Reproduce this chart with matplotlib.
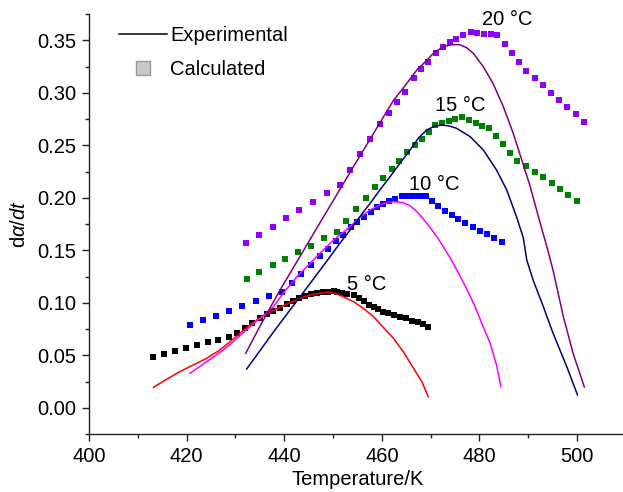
import numpy as np
import matplotlib
matplotlib.use("Agg")
import matplotlib.pyplot as plt
from matplotlib.lines import Line2D
from matplotlib.ticker import MultipleLocator, FormatStrFormatter

plt.rcParams['font.family'] = ['Liberation Sans', 'DejaVu Sans']
plt.rcParams['mathtext.fontset'] = 'custom'
plt.rcParams['mathtext.rm'] = 'Liberation Sans'
plt.rcParams['mathtext.it'] = 'Liberation Sans:italic'

# experimental curves (temperature in K, rate)
exp5_T = [413.2, 415.9, 418.6, 421.4, 424.1, 426.8, 428.9, 430.9, 433.0, 435.0,
          437.1, 439.1, 441.2, 443.2, 445.3, 447.3, 449.0, 450.4, 451.4, 452.1,
          454.2, 456.2, 458.3, 460.3, 462.4, 464.4, 466.5, 468.2, 469.5]
exp5_r = [0.0197, 0.0273, 0.0346, 0.0410, 0.0473, 0.0552, 0.0632, 0.0711, 0.0790, 0.0860,
          0.0911, 0.0959, 0.1003, 0.1044, 0.1076, 0.1092, 0.1101, 0.1092, 0.1075, 0.1058,
          0.1013, 0.0949, 0.0870, 0.0768, 0.0663, 0.0536, 0.0378, 0.0251, 0.0108]

exp10_T = [420.7, 424.1, 427.5, 430.3, 433.0, 435.7, 437.8, 439.5, 442.6, 445.3,
           447.3, 449.4, 451.4, 453.5, 455.5, 457.6, 459.6, 460.3, 462.4, 464.4,
           465.8, 467.2, 468.5, 469.9, 471.3, 472.6, 474.0, 475.3, 477.0, 478.8,
           480.5, 482.2, 483.5, 484.4]
exp10_r = [0.0330, 0.0441, 0.0552, 0.0663, 0.0775, 0.0879, 0.0965, 0.1076, 0.1250, 0.1378,
           0.1473, 0.1568, 0.1648, 0.1727, 0.1816, 0.1886, 0.1933, 0.1949, 0.1965, 0.1955,
           0.1925, 0.1870, 0.1800, 0.1718, 0.1630, 0.1535, 0.1430, 0.1320, 0.1170, 0.0997,
           0.0806, 0.0616, 0.0410, 0.0203]

exp15_T = [432.3, 438.1, 444.3, 446.7, 449.4, 451.4, 453.5, 455.5, 457.6, 459.6,
           461.7, 463.7, 465.8, 467.5, 469.2, 470.9, 472.3, 473.9, 475.3, 478.1,
           480.8, 483.5, 485.6, 487.6, 489.0, 489.7, 491.0, 493.1, 495.1, 497.9,
           500.1]
exp15_r = [0.0371, 0.0743, 0.1124, 0.1273, 0.1441, 0.1568, 0.1695, 0.1822, 0.1949, 0.2076,
           0.2203, 0.2330, 0.2457, 0.2570, 0.2648, 0.2685, 0.2695, 0.2685, 0.2664, 0.2584,
           0.2457, 0.2267, 0.2076, 0.1822, 0.1620, 0.1410, 0.1219, 0.0965, 0.0711, 0.0394,
           0.0124]

exp20_T = [432.1, 435.5, 439.1, 446.9, 454.6, 462.4, 465.1, 467.2, 469.2, 470.6,
           472.6, 474.3, 476.0, 477.4, 478.7, 480.8, 482.8, 484.9, 486.9, 488.7,
           490.4, 492.1, 493.8, 495.1, 497.2, 499.2, 501.5]
exp20_r = [0.052, 0.082, 0.112, 0.173, 0.233, 0.293, 0.309, 0.322, 0.331, 0.338,
           0.344, 0.346, 0.346, 0.343, 0.338, 0.325, 0.309, 0.287, 0.262, 0.236,
           0.211, 0.182, 0.154, 0.131, 0.087, 0.052, 0.020]

# calculated points
calc5_T = [413.2, 415.4, 417.6, 419.9, 422.1, 424.3, 426.5, 428.7, 430.3, 432.0,
           433.5, 435.0, 436.5, 437.8, 439.1, 440.5, 441.7, 443.1, 444.3, 445.5,
           446.7, 447.9, 449.0, 450.1, 450.8, 451.8, 452.8, 454.2, 455.4, 456.4,
           457.4, 458.3, 459.3, 460.3, 461.3, 462.5, 463.7, 465.0, 466.1, 467.4,
           468.4, 469.5]
calc5_r = [0.0489, 0.0517, 0.0546, 0.0571, 0.0597, 0.0626, 0.0651, 0.0676, 0.0717, 0.0765,
           0.0813, 0.0857, 0.0892, 0.0924, 0.0955, 0.0987, 0.1016, 0.1044, 0.1067, 0.1082,
           0.1092, 0.1101, 0.1108, 0.1114, 0.1102, 0.1092, 0.1086, 0.1076, 0.1048, 0.1016,
           0.0984, 0.0959, 0.0943, 0.0917, 0.0902, 0.0886, 0.0870, 0.0854, 0.0831, 0.0816,
           0.0797, 0.0774]

calc10_T = [420.7, 423.3, 426.0, 428.7, 431.4, 434.2, 436.8, 439.5, 441.5, 443.4,
            445.4, 447.3, 449.0, 450.6, 452.1, 453.6, 455.0, 456.4, 457.7, 459.1,
            460.3, 461.5, 462.8, 464.1, 465.3, 466.6, 467.8, 469.1, 470.3, 471.6,
            473.0, 474.4, 475.7, 477.1, 478.6, 480.1, 481.5, 483.0, 484.6]
calc10_r = [0.0794, 0.0835, 0.0879, 0.0927, 0.0971, 0.1016, 0.1063, 0.1108, 0.1194, 0.1279,
            0.1363, 0.1448, 0.1517, 0.1587, 0.1651, 0.1727, 0.1774, 0.1816, 0.1867, 0.1911,
            0.1940, 0.1971, 0.1994, 0.2022, 0.2022, 0.2022, 0.2022, 0.2019, 0.1974, 0.1924,
            0.1879, 0.1838, 0.1800, 0.1765, 0.1727, 0.1689, 0.1657, 0.1616, 0.1578]

calc15_T = [432.3, 434.9, 437.6, 440.2, 442.9, 445.5, 448.2, 450.8, 452.7, 454.7,
            456.7, 458.6, 460.3, 462.0, 463.6, 465.2, 466.7, 468.2, 469.6, 471.0,
            472.4, 473.8, 475.1, 476.5, 477.9, 479.2, 480.6, 482.0, 483.4, 484.9,
            486.3, 487.8, 489.5, 491.3, 493.0, 494.8, 496.5, 498.2, 500.1]
calc15_r = [0.1226, 0.1292, 0.1359, 0.1419, 0.1483, 0.1546, 0.1616, 0.1676, 0.1784, 0.1892,
            0.1997, 0.2102, 0.2187, 0.2273, 0.2352, 0.2435, 0.2502, 0.2565, 0.2632, 0.2695,
            0.2717, 0.2733, 0.2752, 0.2775, 0.2743, 0.2717, 0.2689, 0.2663, 0.2593, 0.2514,
            0.2432, 0.2355, 0.2305, 0.2251, 0.2197, 0.2143, 0.2083, 0.2029, 0.1968]

calc20_T = [432.1, 434.8, 437.6, 440.4, 443.1, 446.0, 448.7, 451.4, 453.5, 455.5,
            457.6, 459.6, 461.5, 463.1, 464.8, 466.5, 468.0, 469.5, 471.1, 472.6,
            474.0, 475.3, 476.7, 478.2, 479.6, 480.9, 482.3, 483.7, 485.2, 486.7,
            488.1, 489.5, 491.3, 493.0, 494.6, 496.4, 498.0, 499.8, 501.5]
calc20_r = [0.1568, 0.1648, 0.1727, 0.1806, 0.1886, 0.1965, 0.2044, 0.2124, 0.2267, 0.2416,
            0.2559, 0.2702, 0.2813, 0.2917, 0.3010, 0.3146, 0.3225, 0.3292, 0.3378, 0.3441,
            0.3483, 0.3517, 0.3552, 0.3584, 0.3574, 0.3565, 0.3559, 0.3552, 0.3467, 0.3378,
            0.3292, 0.3210, 0.3143, 0.3073, 0.3003, 0.2933, 0.2864, 0.2797, 0.2724]

curve_labels = ['5 °C', '10 °C', '15 °C', '20 °C']
label_T = [456.8, 470.7, 476.0, 485.7]
label_r = [0.118, 0.2133, 0.288, 0.3695]

fs = 14.5

fig = plt.figure(figsize=(6.23, 4.92), dpi=100)
ax = fig.add_axes([0.1429, 0.1174, 0.8616, 0.8537])

lw = 1.1
ms = 4.5
ax.plot(calc5_T, calc5_r, 's', color='#000000', ms=ms, mew=0)
ax.plot(calc10_T, calc10_r, 's', color='#0000ff', ms=ms, mew=0)
ax.plot(calc15_T, calc15_r, 's', color='#008000', ms=ms, mew=0)
ax.plot(calc20_T, calc20_r, 's', color='#8b00ff', ms=ms, mew=0)

ax.plot(exp5_T, exp5_r, '-', color='#ff0000', lw=lw)
ax.plot(exp10_T, exp10_r, '-', color='#ff00ff', lw=lw)
ax.plot(exp15_T, exp15_r, '-', color='#000080', lw=lw)
ax.plot(exp20_T, exp20_r, '-', color='#800080', lw=lw)

for txt, t, r in zip(curve_labels, label_T, label_r):
    ax.text(t, r, txt, fontsize=fs, ha='center', va='center')

ax.set_xlim(400, 510)
ax.set_ylim(-0.025, 0.375)
ax.xaxis.set_major_locator(MultipleLocator(20))
ax.xaxis.set_minor_locator(MultipleLocator(10))
ax.yaxis.set_major_locator(MultipleLocator(0.05))
ax.yaxis.set_minor_locator(MultipleLocator(0.025))
ax.yaxis.set_major_formatter(FormatStrFormatter('%.2f'))

for side in ['top', 'right']:
    ax.spines[side].set_visible(False)
for side in ['left', 'bottom']:
    ax.spines[side].set_linewidth(1.0)
    ax.spines[side].set_color('#222222')
ax.tick_params(which='major', direction='out', length=5, width=1.0, pad=4,
               labelsize=fs, color='#222222')
ax.tick_params(which='minor', direction='out', length=3, width=1.0, color='#222222')

ax.set_xlabel('Temperature/K', fontsize=fs, labelpad=3)
ax.set_ylabel(r'd$\alpha$/$dt$', fontsize=fs, labelpad=6)

handles = [
    Line2D([], [], color='black', lw=lw),
    Line2D([], [], ls='none', marker='s', ms=10, mfc='#c8c8c8', mec='#999999', mew=1),
]
ax.legend(handles, ['Experimental', 'Calculated'], loc='upper left',
          bbox_to_anchor=(0.056, 0.972), frameon=False, fontsize=fs,
          handlelength=2.4, handletextpad=0.15, labelspacing=0.75,
          borderpad=0, borderaxespad=0)

fig.savefig('out.png', dpi=100)
